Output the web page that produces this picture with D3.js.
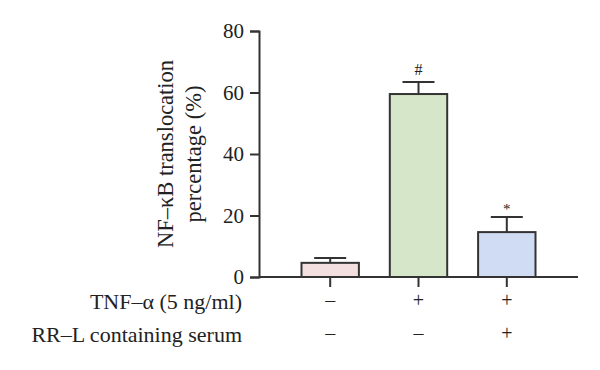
<!DOCTYPE html>
<html>
<head>
<meta charset="utf-8">
<script src="https://d3js.org/d3.v7.min.js"></script>
<style>
  body { margin: 0; background: #fff; }
  text { font-family: "Liberation Serif", "DejaVu Serif", serif; fill: #222; }
</style>
</head>
<body>
<svg id="chart" width="600" height="370"></svg>
<script>
const groups = ['ctrl', 'tnf', 'tnf+rr']
const values = [4.6, 59.5, 14.6]
const errors = [1.6, 3.9, 4.9]
const marks = ['', '#', '*']
const colors = ['#f3dfe0', '#d6e7c9', '#cfdcf3']
const yTicks = [0, 20, 40, 60, 80]
const rowLabels = ['TNF\u2013\u03b1 (5 ng/ml)', 'RR\u2013L containing serum']
const rowSigns = [['\u2013', '+', '+'], ['\u2013', '\u2013', '+']]

const svg = d3.select('#chart')
const stroke = '#333'

const x = d3.scaleBand().domain(groups).range([275, 562]).paddingInner(0.35).paddingOuter(0.3)
const y = d3.scaleLinear().domain([0, 80]).range([277, 31])

// y axis
const yAxis = svg.append('g')
  .attr('transform', 'translate(259,0)')
  .call(d3.axisLeft(y).tickValues(yTicks).tickSize(9).tickPadding(6))
yAxis.select('.domain').attr('stroke', stroke).attr('stroke-width', 2)
yAxis.selectAll('.tick line').attr('stroke', stroke).attr('stroke-width', 2)
yAxis.selectAll('.tick text').attr('font-size', 21).attr('font-family', '"Liberation Serif", serif').attr('fill', '#222')

// bars
svg.selectAll('rect.bar').data(values).join('rect')
  .attr('class', 'bar')
  .attr('x', (d, i) => x(groups[i]))
  .attr('y', d => y(d))
  .attr('width', x.bandwidth())
  .attr('height', d => y(0) - y(d))
  .attr('fill', (d, i) => colors[i])
  .attr('stroke', stroke)
  .attr('stroke-width', 2)

// error bars + significance marks
const eb = svg.append('g')
values.forEach((v, i) => {
  const cx = x(groups[i]) + x.bandwidth() / 2
  eb.append('line').attr('x1', cx).attr('x2', cx).attr('y1', y(v)).attr('y2', y(v + errors[i]))
    .attr('stroke', stroke).attr('stroke-width', 2)
  eb.append('line').attr('x1', cx - 16).attr('x2', cx + 16).attr('y1', y(v + errors[i])).attr('y2', y(v + errors[i]))
    .attr('stroke', stroke).attr('stroke-width', 2)
  const star = marks[i] === '*'
  svg.append('text').attr('x', cx).attr('y', y(v + errors[i]) - (star ? 3 : 7))
    .attr('text-anchor', 'middle').attr('font-size', star ? 15 : 16)
    .text(marks[i])
})

// x axis
const xAxis = svg.append('g')
  .attr('transform', `translate(0,${y(0)})`)
  .call(d3.axisBottom(x).tickSize(10).tickFormat(''))
xAxis.select('.domain').attr('d', `M259,0H578`).attr('stroke', stroke).attr('stroke-width', 2)
xAxis.selectAll('.tick line').attr('stroke', stroke).attr('stroke-width', 2)

// condition rows
const rowY = [309, 342]
rowLabels.forEach((lab, r) => {
  svg.append('text').attr('x', 242).attr('y', rowY[r]).attr('text-anchor', 'end')
    .attr('font-size', 22).text(lab)
  rowSigns[r].forEach((s, i) => {
    svg.append('text').attr('x', x(groups[i]) + x.bandwidth() / 2).attr('y', rowY[r] - 2)
      .attr('text-anchor', 'middle').attr('font-size', 20).text(s)
  })
})

// y label
const yl = svg.append('text').attr('transform', 'translate(0,154) rotate(-90)')
  .attr('text-anchor', 'middle').attr('font-size', 22.5)
yl.append('tspan').attr('x', 0).attr('y', 173).text('NF\u2013\u03baB translocation')
yl.append('tspan').attr('x', 0).attr('y', 201).text('percentage (%)')
</script>
</body>
</html>
